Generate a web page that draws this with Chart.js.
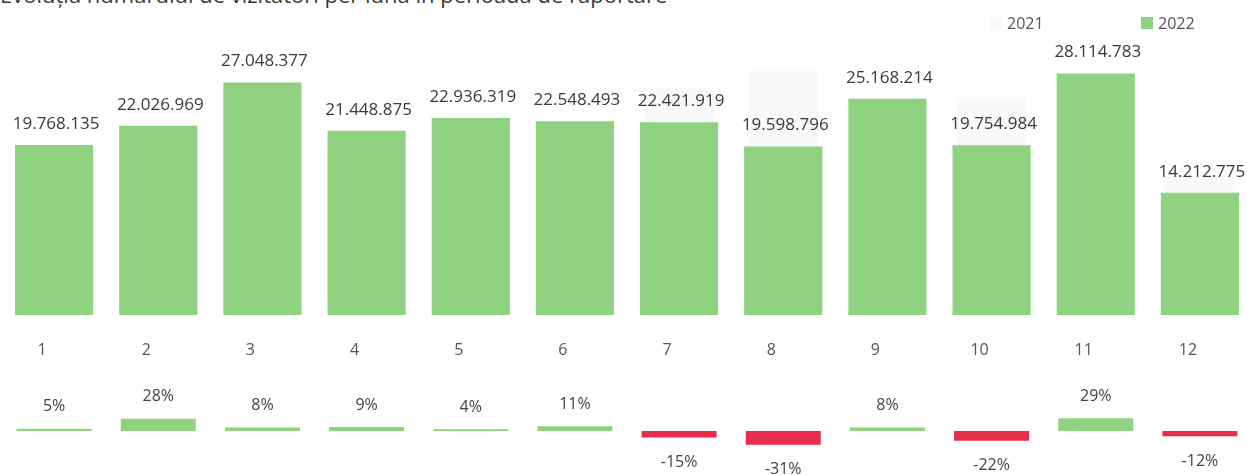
<!DOCTYPE html>
<html>
<head>
<meta charset="utf-8">
<script src="https://cdn.jsdelivr.net/npm/chart.js@4.4.1/dist/chart.umd.min.js"></script>
<style>
  html, body { margin: 0; padding: 0; background: #fff; overflow: hidden; }
  #page { position: relative; width: 1252px; height: 475px; font-family: "Open Sans", sans-serif; }
  #title { position: absolute; left: 0; top: -21px; font-size: 22px; color: #3a3a3a; white-space: nowrap; }
  #legend { position: absolute; left: 0; top: 13px; width: 1252px; height: 20px; font-size: 16px; color: #555; }
  .item { position: absolute; top: 0; height: 20px; display: flex; align-items: center; }
  .box { width: 12px; height: 12px; margin-right: 5px; }
  #top { position: absolute; left: 0; top: 0; width: 1252px; height: 365px; }
  #bottom { position: absolute; left: 0; top: 365px; width: 1252px; height: 110px; }
</style>
</head>
<body>
<div id="page">
  <div id="title">Evoluția numărului de vizitatori per lună în perioada de raportare</div>
  <div id="top"><canvas id="mainChart"></canvas></div>
  <div id="bottom"><canvas id="changeChart"></canvas></div>
  <div id="legend"></div>
</div>
<script>
const months = ["1", "2", "3", "4", "5", "6", "7", "8", "9", "10", "11", "12"];
const seriesNames = ["2021", "2022"];
// 2021 bars are barely visible in the scan, values estimated
const values2021 = [18830000, 17210000, 25040000, 19680000, 22050000, 20310000, 26380000, 28400000, 23300000, 25330000, 21790000, 16150000];
const values2022 = [19768135, 22026969, 27048377, 21448875, 22936319, 22548493, 22421919, 19598796, 25168214, 19754984, 28114783, 14212775];
const changePct = [5, 28, 8, 9, 4, 11, -15, -31, 8, -22, 29, -12];

const green = "#8fd27f";
const red = "#e62e4a";
const faint = "#f8f9fa";
const fontFamily = '"Open Sans", sans-serif';

function fmt(n) {
  return String(n).replace(/\B(?=(\d{3})+(?!\d))/g, ".");
}

// legend
const legendEl = document.getElementById("legend");
const legendPos = [990, 1141];
const legendColors = [faint, green];
seriesNames.forEach((name, i) => {
  const item = document.createElement("div");
  item.className = "item";
  item.style.left = legendPos[i] + "px";
  item.innerHTML = `<span class="box" style="background:${legendColors[i]}"></span><span>${name}</span>`;
  legendEl.appendChild(item);
});

const valueLabels = {
  id: "valueLabels",
  afterDatasetsDraw(chart) {
    const { ctx } = chart;
    const meta = chart.getDatasetMeta(1);
    ctx.save();
    ctx.font = `17px ${fontFamily}`;
    ctx.fillStyle = "#3a3a3a";
    ctx.textAlign = "center";
    ctx.textBaseline = "middle";
    meta.data.forEach((bar, i) => {
      ctx.fillText(fmt(values2022[i]), bar.x + 2, bar.y - 21);
    });
    ctx.restore();
  },
};

const pctLabels = {
  id: "pctLabels",
  afterDatasetsDraw(chart) {
    const { ctx } = chart;
    const meta = chart.getDatasetMeta(0);
    ctx.save();
    ctx.font = `16px ${fontFamily}`;
    ctx.fillStyle = "#444";
    ctx.textAlign = "center";
    ctx.textBaseline = "middle";
    meta.data.forEach((bar, i) => {
      const v = changePct[i];
      const y = v < 0 ? bar.y + 25 : bar.y - 22;
      ctx.fillText(v + "%", bar.x, y);
    });
    ctx.restore();
  },
};

new Chart(document.getElementById("mainChart"), {
  type: "bar",
  data: {
    labels: months,
    datasets: [
      {
        label: seriesNames[0],
        data: values2021,
        backgroundColor: faint,
        order: 2,
        grouped: false,
        barPercentage: 0.68,
        categoryPercentage: 1,
      },
      {
        label: seriesNames[1],
        data: values2022,
        backgroundColor: green,
        order: 1,
        grouped: false,
        barPercentage: 0.75,
        categoryPercentage: 1,
      },
    ],
  },
  options: {
    responsive: true,
    maintainAspectRatio: false,
    animation: false,
    layout: { padding: { top: 40, left: 2, right: 0, bottom: 0 } },
    plugins: { legend: { display: false }, tooltip: { enabled: false } },
    scales: {
      x: {
        grid: { display: false, drawTicks: false },
        border: { display: false },
        ticks: { color: "#555", font: { family: fontFamily, size: 16 }, padding: 26, labelOffset: -12 },
        afterFit: (scale) => { scale.height = 50; },
      },
      y: { display: false, min: 0, max: 32000000 },
    },
  },
  plugins: [valueLabels],
});

new Chart(document.getElementById("changeChart"), {
  type: "bar",
  data: {
    labels: months,
    datasets: [
      {
        data: changePct,
        backgroundColor: changePct.map((v) => (v < 0 ? red : green)),
        barPercentage: 0.72,
        categoryPercentage: 1,
      },
    ],
  },
  options: {
    responsive: true,
    maintainAspectRatio: false,
    animation: false,
    layout: { padding: { top: 0, left: 2, right: 0, bottom: 0 } },
    plugins: { legend: { display: false }, tooltip: { enabled: false } },
    scales: {
      x: { display: false },
      y: { display: false, min: -100, max: 150 },
    },
  },
  plugins: [pctLabels],
});
</script>
</body>
</html>
